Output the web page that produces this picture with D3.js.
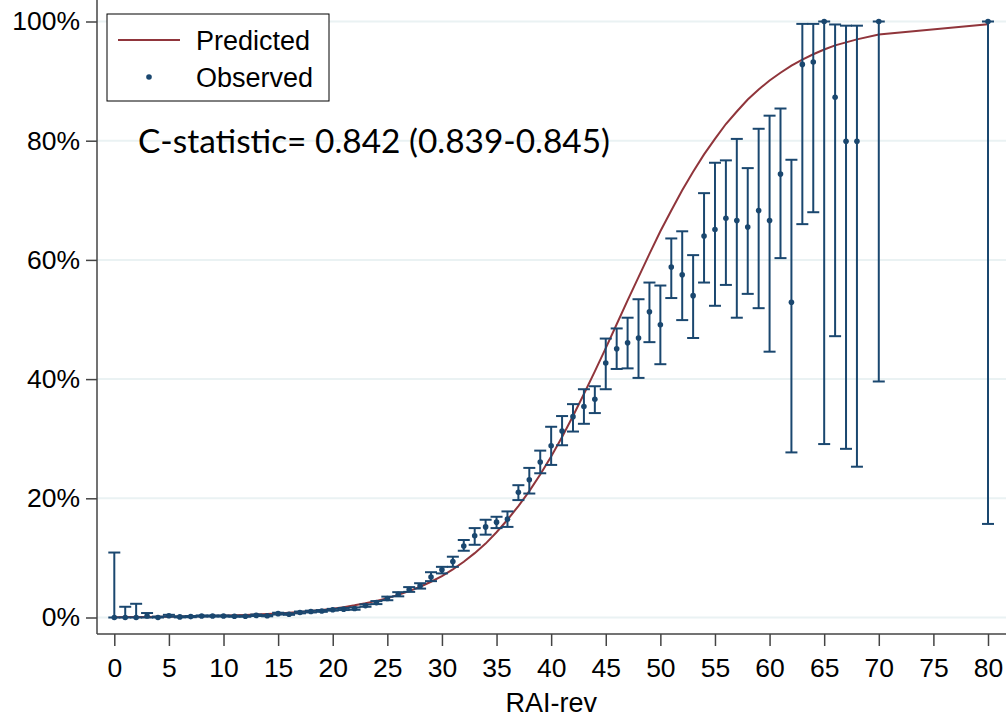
<!DOCTYPE html>
<html>
<head>
<meta charset="utf-8">
<script src="https://cdn.jsdelivr.net/npm/d3@7"></script>
<style>
body { margin: 0; background: #fff; }
svg { display: block; }
</style>
</head>
<body>
<script>
// RAI-rev score values that have observations
var rai = [0,1,2,3,4,5,6,7,8,9,10,11,12,13,14,15,16,17,18,19,20,
  21,22,23,24,25,26,27,28,29,30,31,32,33,34,35,36,37,38,39,40,
  41,42,43,44,45,46,47,48,49,50,51,52,53,54,55,56,57,58,59,60,
  61,62,63,64,65,66,67,68,70,80];

// observed rate (%) with lower / upper confidence limits
var observed = [0,0,0,0.25,0,0.3,0.1,0.15,0.25,0.25,0.25,0.2,0.2,0.35,0.3,0.65,0.55,0.85,1.0,1.1,1.3,
  1.4,1.5,2.0,2.5,3.2,3.9,4.7,5.3,6.8,8.0,9.4,12.0,13.7,15.2,16.0,16.5,21.0,23.1,26.1,28.8,
  31.3,33.7,35.4,36.6,42.7,45.1,46.1,46.9,51.3,49.1,58.8,57.5,54.0,64.0,65.1,67.0,66.6,65.5,68.3,66.6,
  74.4,52.9,92.8,93.2,100,87.3,79.9,79.9,100,100];
var lower = [0,0,0,0,0,0.15,0.02,0.05,0.15,0.15,0.15,0.12,0.12,0.25,0.2,0.5,0.45,0.7,0.85,0.95,1.15,
  1.25,1.3,1.8,2.25,2.9,3.55,4.3,4.85,6.1,7.4,8.5,11.2,12.2,13.9,15.0,15.2,19.7,20.8,24.2,25.6,
  28.9,31.2,32.5,34.3,38.3,41.7,41.8,40.2,46.2,42.5,53.6,49.9,46.9,56.2,52.3,55.8,50.3,54.3,51.9,44.6,
  60.3,27.7,66.0,68.0,29.1,47.2,28.3,25.3,39.6,15.7];
var upper = [10.9,1.8,2.3,0.75,0.15,0.45,0.2,0.25,0.35,0.35,0.35,0.3,0.3,0.5,0.4,0.8,0.7,1.0,1.15,1.25,1.45,
  1.6,1.7,2.2,2.75,3.5,4.25,5.1,5.75,7.6,8.5,10.2,13.0,15.0,16.4,16.9,17.8,22.2,25.1,28.0,32.0,
  33.8,35.8,38.3,38.8,46.8,48.5,50.3,53.4,56.2,55.7,63.6,64.8,60.8,71.2,76.3,76.7,80.3,75.4,82.0,84.2,
  85.4,76.8,99.6,99.6,100,99.5,99.3,99.3,100,100];

// predicted probability (%) at the same scores
var predicted = [0.06,0.07,0.085,0.1,0.12,0.14,0.16,0.19,0.22,0.26,0.3,0.36,0.42,0.49,0.58,0.67,0.79,0.93,1.09,1.27,1.49,
  1.74,2.04,2.39,2.79,3.25,3.8,4.43,5.16,6.0,6.96,8.08,9.35,10.8,12.4,14.3,16.4,18.7,21.2,24.0,27.0,
  30.3,33.8,37.5,41.3,45.2,49.2,53.2,57.1,61.0,64.8,68.3,71.7,74.8,77.7,80.3,82.8,84.9,86.9,88.6,90.1,
  91.4,92.6,93.6,94.5,95.3,96.0,96.5,97.0,97.8,99.55];

var xTicks = [0,5,10,15,20,25,30,35,40,45,50,55,60,65,70,75,80];
var yTicks = [0,0.2,0.4,0.6,0.8,1];

var navy = "#1a476f", maroon = "#90353b";
var font = "'Liberation Sans', Arial, sans-serif";

var width = 1006, height = 718;
var svg = d3.select("body").append("svg")
  .attr("width", width)
  .attr("height", height);

var x = d3.scaleLinear().domain([0, 80]).range([114.3, 988]);
var y = d3.scaleLinear().domain([0, 1]).range([617.5, 21.5]);

// gridlines
svg.append("g").selectAll("line")
  .data(yTicks).enter().append("line")
  .attr("x1", 97).attr("x2", width)
  .attr("y1", function(d){ return y(d); })
  .attr("y2", function(d){ return y(d); })
  .attr("stroke", "#eaf2f3")
  .attr("stroke-width", 2);

// axes
var xAxis = svg.append("g")
  .attr("transform", "translate(0,634)")
  .call(d3.axisBottom(x).tickValues(xTicks).tickSize(12).tickPadding(12));
var yAxis = svg.append("g")
  .attr("transform", "translate(97,0)")
  .call(d3.axisLeft(y).tickValues(yTicks).tickSize(11).tickPadding(6).tickFormat(d3.format(".0%")));

[xAxis, yAxis].forEach(function(g){
  g.select(".domain").remove();
  g.selectAll(".tick line").attr("stroke", "#444").attr("stroke-width", 1.5);
  g.selectAll(".tick text")
    .attr("fill", "#000")
    .style("font-family", font)
    .style("font-size", "26.5px");
});

svg.append("line")
  .attr("x1", 97).attr("x2", width).attr("y1", 634).attr("y2", 634)
  .attr("stroke", "#444").attr("stroke-width", 1.5);
svg.append("line")
  .attr("x1", 97).attr("x2", 97).attr("y1", 0).attr("y2", 634)
  .attr("stroke", "#444").attr("stroke-width", 1.5);

svg.append("text")
  .attr("x", x(40)).attr("y", 712)
  .attr("text-anchor", "middle")
  .style("font-family", font)
  .style("font-size", "27px")
  .text("RAI-rev");

// predicted curve
var line = d3.line()
  .x(function(d, i){ return x(rai[i]); })
  .y(function(d){ return y(d / 100); });

svg.append("path")
  .datum(predicted)
  .attr("d", line)
  .attr("fill", "none")
  .attr("stroke", maroon)
  .attr("stroke-width", 2);

// observed with confidence intervals
var obs = rai.map(function(r, i){
  return {x: r, v: observed[i], lo: lower[i], hi: upper[i]};
});

var bars = svg.append("g").attr("stroke", navy).attr("stroke-width", 2);
bars.selectAll(".ci").data(obs).enter().append("line")
  .attr("x1", function(d){ return x(d.x); })
  .attr("x2", function(d){ return x(d.x); })
  .attr("y1", function(d){ return y(d.lo / 100); })
  .attr("y2", function(d){ return y(d.hi / 100); });
bars.selectAll(".capTop").data(obs).enter().append("line")
  .attr("x1", function(d){ return x(d.x) - 6; })
  .attr("x2", function(d){ return x(d.x) + 6; })
  .attr("y1", function(d){ return y(d.hi / 100); })
  .attr("y2", function(d){ return y(d.hi / 100); });
bars.selectAll(".capBot").data(obs).enter().append("line")
  .attr("x1", function(d){ return x(d.x) - 6; })
  .attr("x2", function(d){ return x(d.x) + 6; })
  .attr("y1", function(d){ return y(d.lo / 100); })
  .attr("y2", function(d){ return y(d.lo / 100); });

svg.append("g").selectAll("circle")
  .data(obs).enter().append("circle")
  .attr("cx", function(d){ return x(d.x); })
  .attr("cy", function(d){ return y(d.v / 100); })
  .attr("r", 2.8)
  .attr("fill", navy);

// legend
var lg = svg.append("g");
lg.append("rect")
  .attr("x", 107).attr("y", 14).attr("width", 222).attr("height", 87)
  .attr("fill", "#fff").attr("stroke", "#000").attr("stroke-width", 1);
lg.append("line")
  .attr("x1", 118).attr("x2", 180).attr("y1", 40).attr("y2", 40)
  .attr("stroke", maroon).attr("stroke-width", 2);
lg.append("circle")
  .attr("cx", 149).attr("cy", 77).attr("r", 2.8).attr("fill", navy);
lg.selectAll("text").data(["Predicted", "Observed"]).enter().append("text")
  .attr("x", 196)
  .attr("y", function(d, i){ return i ? 87 : 50; })
  .style("font-family", font)
  .style("font-size", "27px")
  .text(function(d){ return d; });

// C-statistic annotation
svg.append("text")
  .attr("x", 138).attr("y", 153)
  .attr("textLength", 472)
  .attr("lengthAdjust", "spacingAndGlyphs")
  .style("font-family", "Lato, 'Open Sans', sans-serif")
  .style("font-size", "33px")
  .text("C-statistic= 0.842 (0.839-0.845)");
</script>
</body>
</html>
